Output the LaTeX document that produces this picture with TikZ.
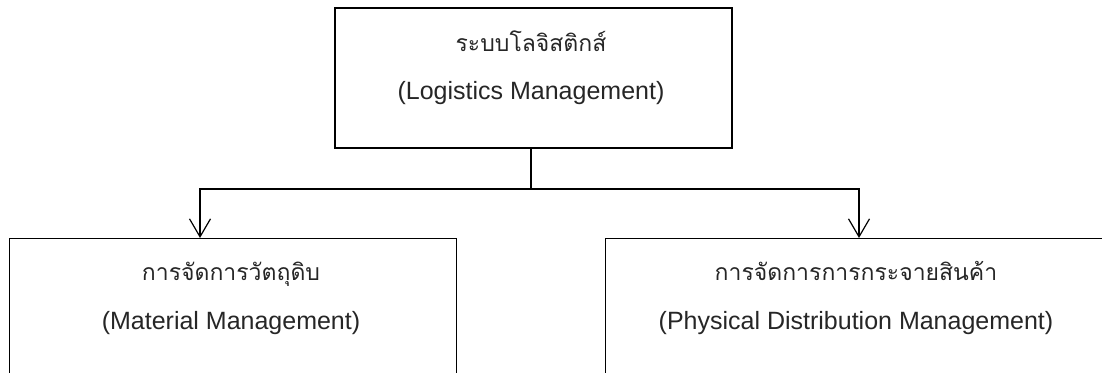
\documentclass[tikz,border=0pt]{standalone}
\usepackage{fontspec}
\setmainfont{Liberation Sans}
\newfontfamily\thaifont[Script=Thai]{Loma}
\newcommand{\thai}[1]{{\thaifont\fontsize{23}{48.5}\selectfont #1}}
\usetikzlibrary{arrows.meta}

\tikzset{
  box/.style={draw, line width=1.2pt, rectangle, inner sep=0pt},
  txt/.style={align=center, anchor=base, text=black!85, font=\fontsize{25}{48.5}\selectfont},
  arr/.style={line width=1.2pt, -{Straight Barb[length=18pt,width=21pt,line width=1.2pt]}}
}

\begin{document}
\begin{tikzpicture}[x=1pt,y=-1pt]
    \useasboundingbox (0,0) rectangle (1102,372);
    \clip (0,0) rectangle (1102,372);

    % Top box
    \node[box, minimum width=397pt, minimum height=140pt] (logbox) at (533.5,78) {};
    \node[txt] (logtext) at (531,99.5) {\thai{ระบบโลจิสติกส์}\\(Logistics Management)};

    % Lower boxes (they run off the page)
    \node[box, minimum width=447pt, minimum height=180pt, anchor=north west] (matbox) at (8.5,238) {};
    \node[txt] (mattext) at (231,329) {\thai{การจัดการวัตถุดิบ}\\(Material Management)};
    \node[box, minimum width=505pt, minimum height=180pt, anchor=north west] (disbox) at (605,238) {};
    \node[txt] (distext) at (856,329) {\thai{การจัดการการกระจายสินค้า}\\(Physical Distribution Management)};

    % Connectors
    \coordinate (split) at (531,189);
    \coordinate (matin) at (200,238);
    \coordinate (disin) at (859,238);
    \draw[line width=1.2pt] (split |- logbox.south) -- (split);
    \draw[arr] (split) -| (matin);
    \draw[arr] (split) -| (disin);
\end{tikzpicture}
\end{document}
